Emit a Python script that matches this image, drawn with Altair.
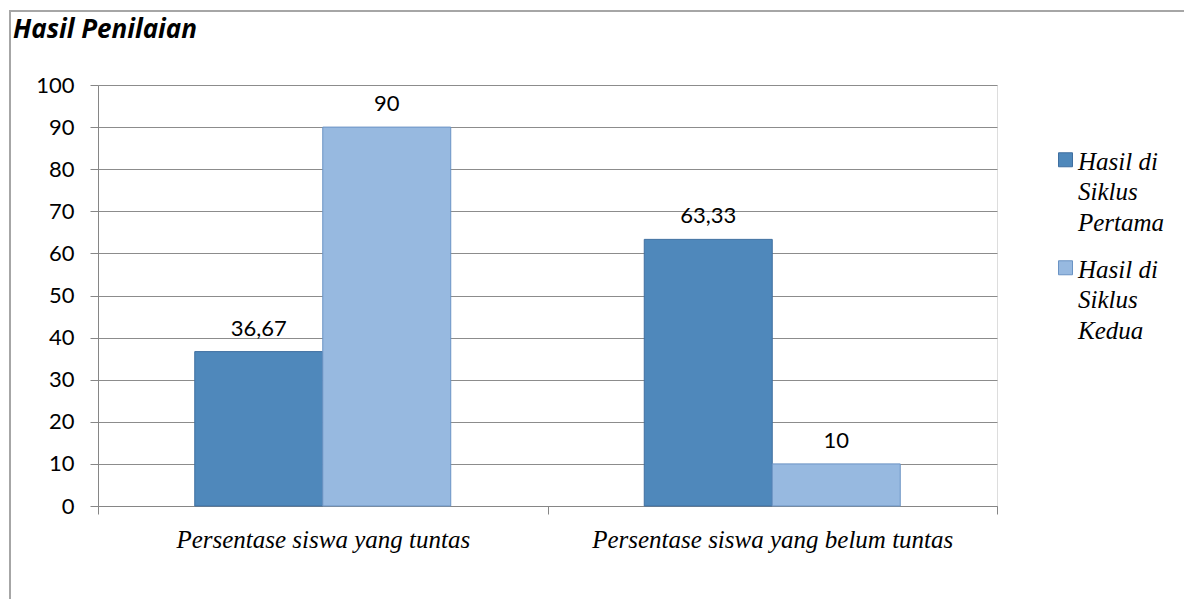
import altair as alt
import pandas as pd

categories = ["Persentase siswa yang tuntas", "Persentase siswa yang belum tuntas"]
series = ["Hasil di Siklus Pertama", "Hasil di Siklus Kedua"]
siklus_pertama = [36.67, 63.33]
siklus_kedua = [90, 10]
y_ticks = [0, 10, 20, 30, 40, 50, 60, 70, 80, 90, 100]

rows = []
for i, c in enumerate(categories):
    rows.append({"kategori": c, "seri": series[0], "nilai": siklus_pertama[i]})
    rows.append({"kategori": c, "seri": series[1], "nilai": siklus_kedua[i]})
df = pd.DataFrame(rows)

W, H = 899, 421
fill_colors = ["#4f88bb", "#97b9e0"]
stroke_colors = ["#3f6fa0", "#6a93c4"]

base = alt.Chart(df)

x_enc = alt.X("kategori:N", sort=categories, title=None,
              scale=alt.Scale(paddingInner=0, paddingOuter=0),
              axis=alt.Axis(labelAngle=0, labelFont="Liberation Serif", labelFontStyle="italic",
                            labelFontSize=25, labelColor="#000000", labelPadding=13,
                            tickSize=8, tickColor="#868686", domainColor="#868686",
                            tickBand="extent", labelLimit=0, grid=False))
xo_enc = alt.XOffset("seri:N", sort=series, scale=alt.Scale(paddingInner=0, paddingOuter=0.756))
y_enc = alt.Y("nilai:Q", title=None, scale=alt.Scale(domain=[0, 100], nice=False),
              axis=alt.Axis(values=y_ticks, labelFont="Lato", labelFontSize=22, labelColor="#000000",
                            labelPadding=16, tickSize=8, tickColor="#868686", domainColor="#868686",
                            gridColor="#8c8c8c", gridWidth=1))

bars = base.mark_bar(strokeWidth=1).encode(
    x=x_enc, xOffset=xo_enc, y=y_enc,
    color=alt.Color("seri:N", sort=series, scale=alt.Scale(domain=series, range=fill_colors),
                    legend=alt.Legend(title=None, orient="none", legendX=955, legendY=72,
                                      labelFont="Liberation Serif", labelFontStyle="italic",
                                      labelFontSize=25, labelColor="#000000", labelLimit=0,
                                      labelBaseline="alphabetic", labelOffset=0,
                                      symbolType="M-1,-2.39H1V-0.39H-1Z", symbolSize=196,
                                      symbolStrokeColor="#3f6fa0", symbolStrokeWidth=1,
                                      rowPadding=21,
                                      labelExpr="split(replace(replace(datum.label, 'di ', 'di\\n'), 'Siklus ', 'Siklus\\n'), '\\n')")),
    stroke=alt.Stroke("seri:N", sort=series, scale=alt.Scale(domain=series, range=stroke_colors), legend=None),
)

labels = base.mark_text(font="Lato", fontSize=22, color="#000000", baseline="alphabetic", dy=-16).transform_calculate(
    teks="replace(toString(datum.nilai), '.', ',')"
).encode(x=alt.X("kategori:N", sort=categories), xOffset=alt.XOffset("seri:N", sort=series),
         y="nilai:Q", text="teks:N")

border = alt.Chart(alt.Data(values=[{"a": 1}])).mark_rect(
    fill=None, stroke="#a6a6a6", strokeWidth=2, clip=False
).encode(x=alt.value(-88), x2=alt.value(W + 300), y=alt.value(-74), y2=alt.value(H + 300))

chart = alt.layer(border, bars, labels).properties(
    width=W, height=H,
    title=alt.TitleParams("Hasil Penilaian", anchor="start", frame="group", font="Open Sans",
                          fontSize=26, fontWeight="bold", fontStyle="italic", color="#000000",
                          dx=-85, dy=33, offset=0),
    autosize=alt.AutoSizeParams(type="none"),
    padding={"left": 98, "top": 85, "right": 187, "bottom": 93},
).configure_view(fill="#e9edf6", stroke=None).configure(
    background="#ffffff", style={"guide-label": {"lineHeight": 30.5}}
)

chart.save("out.html", embed_options={"renderer": "svg", "actions": False})
